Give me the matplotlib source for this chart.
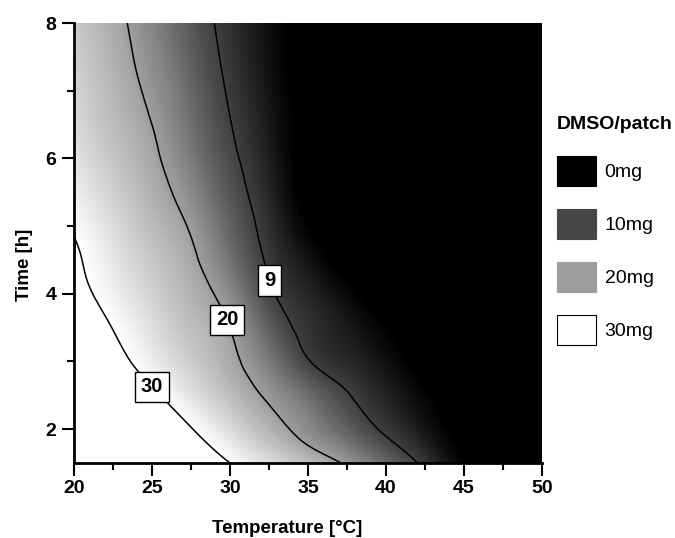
import numpy as np
import matplotlib
matplotlib.use('Agg')
import matplotlib.pyplot as plt
import matplotlib.tri as mtri
from matplotlib.colors import LinearSegmentedColormap
from matplotlib.patches import Patch
from matplotlib.ticker import MultipleLocator

plt.rcParams['font.family'] = ['Liberation Sans', 'DejaVu Sans']

# grid: DMSO per patch (mg)
temperature = [20, 22.5, 25, 27.5, 30, 32.5, 35, 37.5, 40, 42.5, 45, 47.5, 50]
time_h = [1.5, 2.0, 2.5, 3.0, 3.5, 4.0, 4.5, 5.0, 5.5, 6.0, 6.5, 7.0, 7.5, 8.0]
dmso = [
    [43.9, 40.4, 36.9, 33.5, 30.0, 26.5, 23.1, 19.3, 13.6, 7.7, 1.3, 0, 0],
    [42.1, 38.1, 34.1, 30.2, 26.2, 22.2, 17.8, 12.9, 8.1, 3.6, 0, 0, 0],
    [38.3, 34.5, 30.8, 27.0, 23.2, 19.2, 14.3, 9.4, 5.4, 1.6, 0, 0, 0],
    [34.9, 31.5, 28.1, 24.7, 21.2, 15.8, 9.3, 6.1, 3.0, 0, 0, 0, 0],
    [33.2, 29.9, 26.6, 23.3, 20.0, 12.6, 7.4, 4.3, 1.2, 0, 0, 0, 0],
    [31.5, 28.4, 25.3, 22.1, 17.6, 9.9, 5.7, 2.0, 0, 0, 0, 0, 0],
    [30.7, 27.4, 24.2, 20.9, 14.9, 8.2, 3.4, 0, 0, 0, 0, 0, 0],
    [29.6, 26.3, 23.0, 19.5, 13.1, 6.9, 1.2, 0, 0, 0, 0, 0, 0],
    [28.3, 25.1, 21.9, 17.6, 11.5, 5.7, 0, 0, 0, 0, 0, 0, 0],
    [27.1, 24.0, 20.9, 15.9, 10.2, 4.8, 0, 0, 0, 0, 0, 0, 0],
    [26.3, 23.1, 20.0, 14.6, 9.2, 4.1, 0, 0, 0, 0, 0, 0, 0],
    [25.6, 22.5, 18.9, 13.7, 8.4, 3.5, 0, 0, 0, 0, 0, 0, 0],
    [25.0, 21.9, 17.9, 12.7, 7.7, 3.0, 0, 0, 0, 0, 0, 0, 0],
    [24.5, 21.4, 17.1, 11.9, 7.1, 2.6, 0, 0, 0, 0, 0, 0, 0],
]

contour_levels = [9, 20, 30]
label_spots = [(32.6, 4.2), (30.0, 3.63), (24.9, 2.6)]

legend_labels = ['0mg', '10mg', '20mg', '30mg']
legend_colors = ['#000000', '#474747', '#9d9d9d', '#ffffff']

# gray ramp through the legend colours (0, 10, 20, 30 mg); stays black below ~1 mg
cmap = LinearSegmentedColormap.from_list(
    'dmso', [(0, '#000000'), (0.035, '#000000'), (1/3, '#474747'),
             (2/3, '#9d9d9d'), (1, '#ffffff')])
cmap.set_over('white')
cmap.set_under('black')

# smooth the coarse grid with matplotlib's cubic refiner (on square cells)
dT, dt = 2.5, 0.5
T, H = np.meshgrid(temperature, time_h)
triang = mtri.Triangulation(T.ravel() / dT, H.ravel() / dt)
tri_sq, z_fine = mtri.UniformTriRefiner(triang).refine_field(
    np.array(dmso).ravel(), subdiv=3)
tri_fine = mtri.Triangulation(tri_sq.x * dT, tri_sq.y * dt, tri_sq.triangles)

fig = plt.figure(figsize=(6.75, 5.38), dpi=100)
ax = fig.add_axes([0.1096, 0.1394, 0.6933, 0.8178])

ax.tricontourf(tri_fine, z_fine, levels=np.linspace(0, 30, 121),
               cmap=cmap, extend='both')
lines = ax.tricontour(tri_fine, z_fine, levels=contour_levels,
                      colors='black', linewidths=1.1)
texts = ax.clabel(lines, fmt='%d', manual=label_spots, inline=False, fontsize=14.5)
for t in texts:
    t.set_rotation(0)
    t.set_fontweight('bold')
    t.set_bbox(dict(boxstyle='square,pad=0.28', fc='white', ec='black', lw=1))
    t.set_zorder(5)

ax.set_xlim(20, 50)
ax.set_ylim(1.5, 8)
ax.xaxis.set_major_locator(MultipleLocator(5))
ax.xaxis.set_minor_locator(MultipleLocator(2.5))
ax.yaxis.set_major_locator(MultipleLocator(2))
ax.yaxis.set_minor_locator(MultipleLocator(1))
ax.tick_params(which='major', direction='out', length=9, width=1.5, labelsize=14)
ax.tick_params(which='minor', direction='out', length=5, width=1.5)
for lab in ax.get_xticklabels() + ax.get_yticklabels():
    lab.set_fontweight('bold')

for side in ['top', 'right']:
    ax.spines[side].set_visible(False)
for side in ['left', 'bottom']:
    ax.spines[side].set_linewidth(2)

ax.set_xlabel('Temperature [°C]', fontsize=13.5, fontweight='bold')
ax.set_ylabel('Time [h]', fontsize=13.5, fontweight='bold')
ax.xaxis.set_label_coords(0.455, -0.13)
ax.yaxis.set_label_coords(-0.088, 0.45)

handles = [Patch(facecolor=c, edgecolor='black' if c == '#ffffff' else c, linewidth=0.8)
           for c in legend_colors]
fig.legend(handles, legend_labels, title='DMSO/patch', loc='upper left',
           bbox_to_anchor=(0.825, 0.7845), frameon=False, fontsize=14,
           title_fontproperties={'weight': 'bold', 'size': 14},
           handlelength=2.0, handleheight=2.0, handletextpad=0.45,
           labelspacing=1.18, borderpad=0, borderaxespad=0, alignment='left')

fig.savefig('out.png', dpi=100)
